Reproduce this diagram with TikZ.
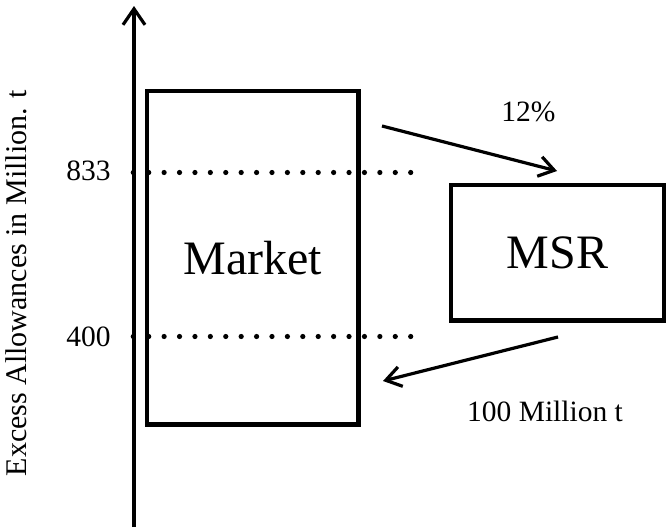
\documentclass[tikz,border=0pt]{standalone}
\usepackage{fontspec}
\setmainfont{Liberation Serif}
\usetikzlibrary{arrows.meta}
\begin{document}
\begin{tikzpicture}[x=1pt,y=-1pt,
  boxnode/.style={draw,line width=4.5pt,rectangle,inner sep=0pt,font=\fontsize{48}{56}\selectfont},
  flow/.style={line width=3.2pt,-{Straight Barb[length=15pt,width=20pt,line width=3.2pt]}},
  dotline/.style={line width=5.2pt,line cap=round,dash pattern=on 0pt off 15.41pt},
  lbl/.style={font=\fontsize{29.5}{35}\selectfont,inner sep=0pt,anchor=base}]
\useasboundingbox (0,0) rectangle (667,528);
% axis
\coordinate (axb) at (134,527);
\coordinate (axt) at (134,6);
\draw[line width=3.2pt,-{Straight Barb[length=16pt,width=22pt,line width=3.2pt]}] (axb) -- (axt);
\node[rotate=90,anchor=base,inner sep=0pt,font=\fontsize{30}{36}\selectfont] (ylab) at (27,283) {Excess Allowances in Million. t};
% boxes
\node[boxnode,minimum width=211.7pt,minimum height=333.5pt] (market) at (252.85,257.75) {Market};
\node[boxnode,minimum width=213pt,minimum height=135.5pt] (msr) at (557.4,252.75) {MSR};
% dotted levels
\coordinate (d1a) at (133.3,172.5);
\coordinate (d1b) at (411,172.5);
\coordinate (d2a) at (133.3,336.5);
\coordinate (d2b) at (411,336.5);
\draw[dotline] (d1a) -- (d1b);
\draw[dotline] (d2a) -- (d2b);
\node[lbl] (v833) at (88.5,180) {833};
\node[lbl] (v400) at (88.5,346.7) {400};
% flows
\coordinate (f1a) at (382,126);
\coordinate (f1b) at (557,171);
\coordinate (f2a) at (558,337);
\coordinate (f2b) at (383,381);
\draw[flow] (f1a) -- (f1b);
\draw[flow] (f2a) -- (f2b);
\node[lbl] (pct) at (528.5,121.7) {12\%};
\node[lbl] (hund) at (545,421.7) {100 Million t};
\end{tikzpicture}
\end{document}
